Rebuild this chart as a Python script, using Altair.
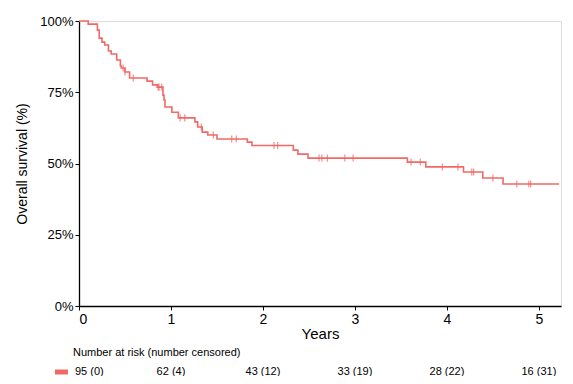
import altair as alt
import pandas as pd

# Kaplan-Meier step function (years, survival %)
step_time = [0, 0.10, 0.20, 0.22, 0.25, 0.28, 0.32, 0.35, 0.41, 0.45, 0.46, 0.50, 0.55,
             0.74, 0.80, 0.85, 0.913, 0.924, 0.935, 1.01, 1.08, 1.26, 1.29, 1.34, 1.40,
             1.50, 1.83, 1.88, 2.33, 2.38, 2.49, 3.57, 3.77, 4.18, 4.39, 4.61, 5.22]
step_surv = [100, 98.9, 96.8, 94.0, 92.6, 91.6, 89.5, 88.4, 86.3, 84.2, 83.5, 82.1, 80.0,
             78.9, 77.6, 76.8, 74.0, 72.3, 69.8, 68.0, 66.0, 64.6, 62.8, 61.0, 60.0,
             58.6, 57.5, 56.3, 54.7, 53.3, 51.9, 50.5, 48.8, 47.0, 44.9, 42.8, 42.8]

# censoring times (years)
censor_time = [0.48, 0.50, 0.59, 0.86, 0.87, 0.90, 1.10, 1.15, 1.33, 1.46, 1.66, 1.71,
               2.12, 2.16, 2.61, 2.64, 2.70, 2.89, 2.98, 3.61, 3.71, 3.95, 4.12, 4.27,
               4.29, 4.50, 4.76, 4.89, 4.91]

# number at risk table
risk_years = [0, 1, 2, 3, 4, 5]
risk_labels = ["95 (0)", "62 (4)", "43 (12)", "33 (19)", "28 (22)", "16 (31)"]

COLOR = "#EF6A66"
FONT = "Liberation Sans"

steps = pd.DataFrame({"t": step_time, "s": step_surv})
cens = pd.DataFrame({"t": censor_time}).sort_values("t")
cens = pd.merge_asof(cens, steps.sort_values("t"), on="t", direction="backward")
risk = pd.DataFrame({"t": risk_years, "label": risk_labels})

xscale = alt.Scale(domain=[0, 5.24], nice=False, zero=False)
yscale = alt.Scale(domain=[0, 100], nice=False)

line = alt.Chart(steps).mark_line(interpolate="step-after", color=COLOR, strokeWidth=1.6).encode(
    x=alt.X("t:Q", scale=xscale,
            axis=alt.Axis(values=[0, 1, 2, 3, 4, 5], format="d", title="Years", grid=False,
                          labelFontSize=14, titleFontSize=15, titleFontWeight="normal",
                          labelPadding=2, titlePadding=0, tickSize=4,
                          domainColor="#000000", tickColor="#000000", labelColor="#000000",
                          titleColor="#000000", labelFont=FONT, titleFont=FONT, domainWidth=1.3)),
    y=alt.Y("s:Q", scale=yscale,
            axis=alt.Axis(values=[0, 25, 50, 75, 100], labelExpr="datum.value + '%'",
                          title="Overall survival (%)", grid=False,
                          labelFontSize=13, titleFontSize=14, titleFontWeight="normal",
                          labelPadding=2, titlePadding=10, tickSize=4,
                          domainColor="#000000", tickColor="#000000", labelColor="#000000",
                          titleColor="#000000", labelFont=FONT, titleFont=FONT, domainWidth=1.3)),
)

ticks = alt.Chart(cens).mark_point(shape="M0,-1L0,1", size=50, color=COLOR, strokeWidth=1.3,
                                    filled=False).encode(
    x=alt.X("t:Q", scale=xscale),
    y=alt.Y("s:Q", scale=yscale),
)

header = alt.Chart(pd.DataFrame({"t": [0]})).mark_text(
    text="Number at risk (number censored)", align="left", baseline="middle",
    fontSize=11, font=FONT, color="#000000", dx=-6).encode(
    x=alt.X("t:Q", scale=xscale), y=alt.value(332))

risk_first = alt.Chart(risk[risk.t == 0]).mark_text(
    align="left", baseline="middle", fontSize=11, font=FONT, color="#000000", dx=-4).encode(
    x=alt.X("t:Q", scale=xscale), y=alt.value(351), text="label:N")

risk_rest = alt.Chart(risk[risk.t > 0]).mark_text(
    align="center", baseline="middle", fontSize=11, font=FONT, color="#000000").encode(
    x=alt.X("t:Q", scale=xscale), y=alt.value(351), text="label:N")

swatch = alt.Chart(pd.DataFrame({"t": [0]})).mark_rule(color=COLOR, strokeWidth=5).encode(
    x=alt.value(-24), x2=alt.value(-11), y=alt.value(351))

chart = alt.layer(line, ticks, header, risk_first, risk_rest, swatch).properties(
    width=482, height=285,
    autosize=alt.AutoSizeParams(type="none"),
    padding={"left": 71, "top": 13, "right": 4, "bottom": 70},
).configure_view(stroke=None).configure(background="#ffffff")

chart.save("out.html", embed_options={"renderer": "svg", "actions": False})
